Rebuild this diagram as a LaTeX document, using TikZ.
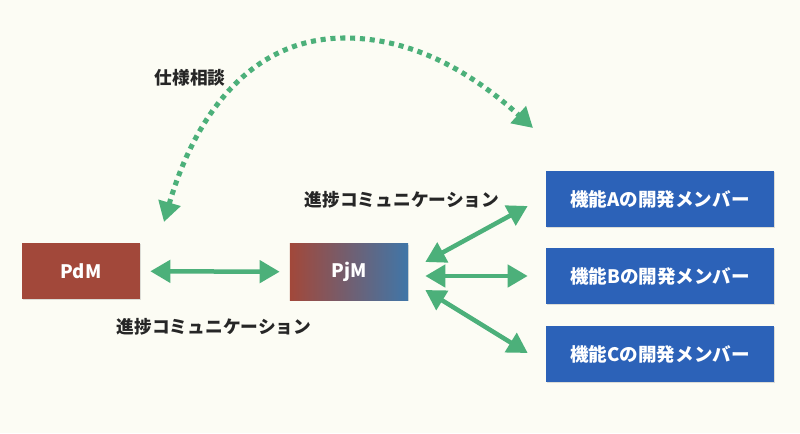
\documentclass[tikz,border=0pt]{standalone}
\usepackage{fontspec}
\setmainfont{Noto Sans CJK JP}
\usepackage{xcolor}
\definecolor{fondo}{RGB}{252, 252, 244}
\definecolor{rojo}{RGB}{162, 72, 58}
\definecolor{azulpj}{RGB}{64, 118, 168}
\definecolor{azul}{RGB}{44, 98, 184}
\definecolor{verde}{RGB}{76, 176, 122}
\usepackage{tikz}
\usetikzlibrary{calc, positioning, arrows.meta, shadows}

\begin{document}
\begin{tikzpicture}[
  x=0.025cm, y=-0.025cm,
  caja/.style={rectangle, minimum width=2.95cm, minimum height=1.4cm, text=white,
    font=\fontsize{13.2}{15}\selectfont\bfseries,
    drop shadow={opacity=0.25, shadow xshift=0.4pt, shadow yshift=-0.6pt}},
  miembro/.style={caja, fill=azul, minimum width=5.7cm},
  etiqueta/.style={font=\fontsize{12.6}{14}\selectfont\bfseries, text=black!85},
  com/.style={{Triangle[length=0.5cm, width=0.55cm]}-{Triangle[length=0.5cm, width=0.55cm]}, line width=3.2pt, verde},
  consulta/.style={{Triangle[length=0.5cm, width=0.55cm]}-{Triangle[length=0.5cm, width=0.55cm]}, line width=3.6pt, verde, dash pattern=on 3.6pt off 3.4pt}
]
  \fill[fondo] (0,0) rectangle (800,433);

  \node[caja, fill=rojo] (pdm) at (81,271) {PdM};
  \node[caja, left color=rojo, right color=azulpj] (pjm) at (349,272) {PjM};
  \node[miembro] (mema) at (660,199) {機能Aの開発メンバー};
  \node[miembro] (memb) at (660,276) {機能Bの開発メンバー};
  \node[miembro] (memc) at (660,354) {機能Cの開発メンバー};

  \coordinate (spec-pdm) at (164,222);
  \coordinate (spec-top) at (345,38);
  \coordinate (spec-mem) at (533,128);

  \draw[com, shorten >=0.25cm, shorten <=0.25cm] (pdm) -- (pjm);
  \draw[com] ([shift={(17,-10)}]pjm.east) -- ([shift={(-18,7)}]mema.west);
  \draw[com] ([shift={(17,4)}]pjm.east) -- ([shift={(-18,0)}]memb.west);
  \draw[com] ([shift={(17,18)}]pjm.east) -- ([shift={(-18,-1)}]memc.west);
  \draw[consulta] (spec-pdm) .. controls (192,125) and (245,38) .. (spec-top)
    .. controls (420,38) and (480,80) .. (spec-mem);

  \node[etiqueta] (lbl-spec) at (190,78) {仕様相談};
  \node[etiqueta] (lbl-up) at (402,200) {進捗コミュニケーション};
  \node[etiqueta] (lbl-down) at (214,327) {進捗コミュニケーション};
\end{tikzpicture}
\end{document}
